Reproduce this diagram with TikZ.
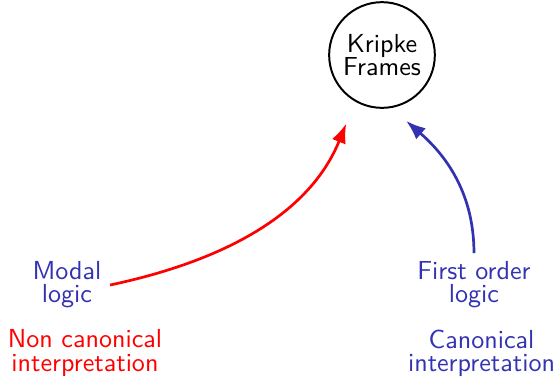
\documentclass[tikz,border=0pt]{standalone}
\usepackage{tikz}
\usetikzlibrary{arrows.meta,positioning}

\definecolor{struct}{rgb}{0.2,0.2,0.7}

\begin{document}
\begin{tikzpicture}[
  txt/.style={align=center, font=\sffamily\fontsize{10.6}{9.4}\selectfont},
  frm/.style={txt, draw, circle, thick, minimum size=1.51cm, inner sep=0pt},
  arr/.style={-{Latex}, line width=1.1pt},
]
\useasboundingbox (0,0) rectangle (8,5.386);
\node[frm] (frames) at (5.457,4.600) {Kripke\\Frames};
\node[txt, text=struct] (modal) at (0.957,1.314) {Modal\\logic};
\node[txt, text=red] (noncan) at (1.214,0.343) {Non canonical\\interpretation};
\node[txt, text=struct] (fol) at (6.771,1.314) {First order\\logic};
\node[txt, text=struct] (can) at (6.879,0.343) {Canonical\\interpretation};
\draw[arr, red, shorten >=0.337cm] (modal.east) to[out=12, in=248] (frames.240);
\draw[arr, struct, shorten >=0.28cm] (fol.north) to[out=90, in=319] (frames.280);
\end{tikzpicture}
\end{document}
